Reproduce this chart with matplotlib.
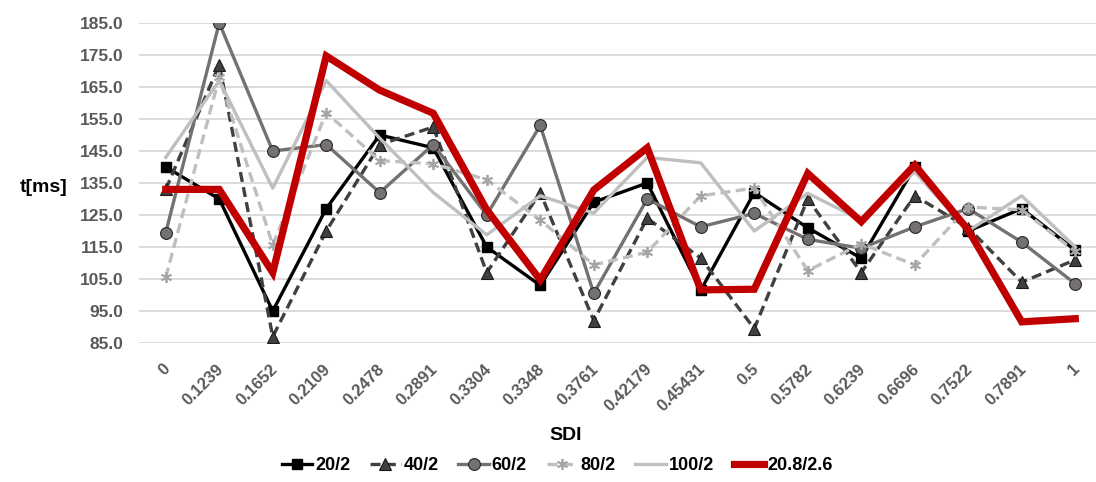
import matplotlib
matplotlib.use("Agg")
import matplotlib.pyplot as plt
import matplotlib.transforms as mtransforms

categories = ["0", "0.1239", "0.1652", "0.2109", "0.2478", "0.2891", "0.3304", "0.3348",
              "0.3761", "0.42179", "0.45431", "0.5", "0.5782", "0.6239", "0.6696",
              "0.7522", "0.7891", "1"]

s20_2 = [140, 130, 95, 127, 150, 146, 115, 103, 129, 135, 101.5, 132, 121, 111.5, 140, 120, 127, 114]
s40_2 = [133, 172, 87, 120, 147, 152.5, 107, 132, 92, 124, 111.5, 89.5, 130, 107, 131, 121, 104, 111]
s60_2 = [119.5, 185, 145, 147, 132, 147, 125, 153, 100.5, 130, 121.3, 125.5, 117.4, 114.6, 121.3, 127, 116.5, 103.5]
s80_2 = [105.5, 168, 115.6, 157, 142, 141, 136, 123.4, 109.4, 113.4, 131, 133.4, 107.6, 116, 109.4, 127.5, 126.6, 113.6]
s100_2 = [143, 167, 133.4, 167, 149, 132, 118.8, 131, 125.6, 143, 141.3, 120, 131.8, 123.4, 138.5, 120, 131, 115]
s208_26 = [133, 133, 107, 174.7, 164, 156.8, 126.6, 104.7, 132.8, 146, 101.6, 101.8, 138, 122.9, 140.6, 120.3, 91.6, 92.6]

labels = ["20/2", "40/2", "60/2", "80/2", "100/2", "20.8/2.6"]
yticks = [85, 95, 105, 115, 125, 135, 145, 155, 165, 175, 185]

plt.rcParams['font.family'] = ['Liberation Sans', 'DejaVu Sans']

fig = plt.figure(figsize=(10.96, 4.82), dpi=100)
W, H = 1096, 482
ax = fig.add_axes([139 / W, (H - 343) / H, (1096 - 139) / W, 320 / H])

x = list(range(len(categories)))
lw = 2.4
ax.plot(x, s20_2, color='black', lw=lw, marker='s', ms=7.5, mfc='black', mec='black', label=labels[0], zorder=3)
ax.plot(x, s40_2, color='#404040', lw=lw, ls=(0, (3, 1.6)), marker='^', ms=8, mfc='#404040', mec='#1a1a1a', mew=0.8, label=labels[1], zorder=3)
ax.plot(x, s60_2, color='#767171', lw=lw, marker='o', ms=8.5, mfc='#767171', mec='#262626', mew=0.8, label=labels[2], zorder=3)
ax.plot(x, s80_2, color='#BFBFBF', lw=lw, ls=(0, (3, 1.6)), marker=(6, 2, 0), ms=8, mec='#A6A6A6', mew=1.3, label=labels[3], zorder=3)
ax.plot(x, s100_2, color='#BFBFBF', lw=lw, label=labels[4], zorder=3)
ax.plot(x, s208_26, color='#C00000', lw=5.2, label=labels[5], zorder=4, solid_joinstyle='miter')

ax.set_ylim(85, 185)
ax.set_xlim(-0.5, 17.5 - 6 / 53.5)
ax.set_yticks(yticks)
ax.set_yticklabels([f"{v:.1f}" for v in yticks], fontsize=12.5, fontweight='bold', color='#595959')
ax.yaxis.grid(True, color='#D9D9D9', lw=1.3)
ax.set_axisbelow(True)
for s in ax.spines.values():
    s.set_visible(False)
ax.tick_params(axis='both', length=0)
ax.tick_params(axis='y', pad=11)

ax.set_xticks(x)
ax.set_xticklabels(categories, rotation=45, ha='right', va='center', rotation_mode='anchor',
                   fontsize=12, fontweight='bold', color='#595959')
ax.tick_params(axis='x', pad=17)
offset = mtransforms.ScaledTranslation(2 / 100, 0, fig.dpi_scale_trans)
for lab in ax.get_xticklabels():
    lab.set_transform(lab.get_transform() + offset)

fig.text(20 / W, 1 - 188 / H, "t[ms]", fontsize=14, fontweight='bold', color='black', ha='left', va='center')
fig.text(566 / W, 1 - 435 / H, "SDI", fontsize=14, fontweight='bold', color='black', ha='center', va='center')

leg = fig.legend(loc='center', bbox_to_anchor=(557 / W, 1 - 466 / H), ncol=6, frameon=False,
                 prop={'weight': 'bold', 'size': 13}, handlelength=1.7, columnspacing=1.1, handletextpad=0.15)

fig.savefig("out.png", dpi=100)
